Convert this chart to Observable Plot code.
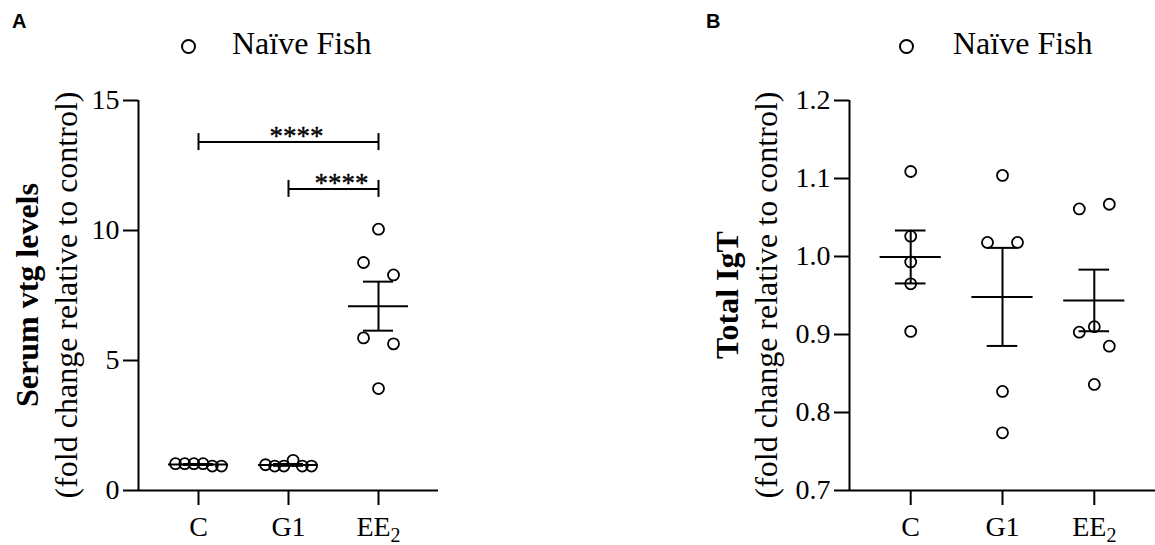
<!DOCTYPE html>
<html><head><meta charset="utf-8">
<script src="https://cdn.jsdelivr.net/npm/d3@7"></script>
<script src="https://cdn.jsdelivr.net/npm/@observablehq/plot@0.6"></script>
<style>
body{margin:0;background:#fff;}
#wrap{position:relative;width:1155px;height:545px;overflow:hidden;font-family:"Liberation Serif","Times New Roman",serif;color:#000;background:#fff;}
.panel{position:absolute;top:0;}
.letter{position:absolute;font-family:"Liberation Sans",Arial,sans-serif;font-weight:bold;font-size:20px;line-height:20px;}
.leg-dot{position:absolute;width:11px;height:11px;border:2px solid #000;border-radius:50%;}
.leg-text{position:absolute;font-family:"Liberation Serif","Times New Roman",serif;font-size:32px;line-height:32px;white-space:pre;}
.ylab{position:absolute;font-family:"Liberation Serif","Times New Roman",serif;font-size:32px;line-height:39px;text-align:center;white-space:nowrap;transform:translate(-50%,-50%) rotate(-90deg);}
.ylab span{display:block;font-family:"Liberation Serif","Times New Roman",serif;}
</style></head><body><div id="wrap"></div>
<script>
// ---- data ----
const groups = ["C", "G1", "EE2"];
// Panel A: serum vtg levels (fold change relative to control)
const vtgC   = [1.03, 1.03, 1.03, 1.03, 0.94, 0.94];
const vtgG1  = [0.99, 0.94, 0.94, 1.16, 0.94, 0.94];
const vtgEE2 = [10.05, 8.77, 8.29, 5.87, 5.64, 3.92];
// Panel B: total IgT (fold change relative to control)
const igtC   = [1.109, 1.026, 0.993, 0.965, 0.904];
const igtG1  = [1.104, 1.018, 1.018, 0.827, 0.774];
const igtEE2 = [1.061, 1.067, 0.903, 0.910, 0.885, 0.836];
const ticksA = [0, 5, 10, 15];
const ticksB = [0.7, 0.8, 0.9, 1.0, 1.1, 1.2];
const sigPairs = [["C", "EE2"], ["G1", "EE2"]];
const sigHeights = [13.4, 11.6];
const sigLabels = ["****", "****"];
const legendLabel = "Naïve Fish";
const titleA = "Serum vtg levels", titleB = "Total IgT", subtitleY = "(fold change relative to control)";

// ---- layout helpers ----
const H = 545, MT = 100, MB = 55;

function spread(values, ypx) {
  const idx = values.map((v, i) => i).sort((a, b) => values[b] - values[a]);
  const rows = [];
  let cur = [idx[0]];
  for (let k = 1; k < idx.length; k++) {
    if (Math.abs(ypx(values[idx[k - 1]]) - ypx(values[idx[k]])) < 16) cur.push(idx[k]);
    else { rows.push(cur); cur = [idx[k]]; }
  }
  rows.push(cur);
  const off = new Array(values.length).fill(0);
  for (const row of rows) {
    row.sort((a, b) => a - b);
    const n = row.length;
    const span = n === 1 ? 0 : n <= 3 ? 30 : 46;
    row.forEach((i, j) => off[i] = n === 1 ? 0 : -span / 2 + j * span / (n - 1));
  }
  return off;
}

function panel({data, yDomain, yTicks, yFormat, width, ml, mr, sig}) {
  const x0 = -2 / 3, x1 = groups.length - 1 + 2 / 3;
  const step = (width - ml - mr) / (x1 - x0);
  const ypx = d3.scaleLinear(yDomain, [H - MB, MT]);
  const unitPx = (H - MB - MT) / (yDomain[1] - yDomain[0]);
  const pts = [], stats = [];
  groups.forEach((g, gi) => {
    const vals = data[gi];
    const off = spread(vals, ypx);
    vals.forEach((v, k) => pts.push({g, gi, v, x: gi + off[k] / step}));
    const m = d3.mean(vals), s = d3.deviation(vals) / Math.sqrt(vals.length);
    stats.push({gi, m, lo: m - s, hi: m + s});
  });
  const marks = [
    Plot.ruleX([x0], {strokeWidth: 2}),
    Plot.ruleY([yDomain[0]], {strokeWidth: 2}),
    Plot.axisY({ticks: yTicks, tickFormat: yFormat, tickSize: 15, tickPadding: 4, fontSize: 28, strokeWidth: 2, label: null}),
    Plot.axisX({ticks: groups.map((_, i) => i), tickFormat: i => groups[i], tickSize: 15, tickPadding: 11, fontSize: 28, strokeWidth: 2, label: null}),
    Plot.ruleY(stats, {y: "m", x1: d => d.gi - 1 / 3, x2: d => d.gi + 1 / 3, strokeWidth: 2}),
    Plot.ruleX(stats, {x: "gi", y1: "lo", y2: "hi", strokeWidth: 2}),
    Plot.ruleY(stats, {y: "hi", x1: d => d.gi - 1 / 6, x2: d => d.gi + 1 / 6, strokeWidth: 2}),
    Plot.ruleY(stats, {y: "lo", x1: d => d.gi - 1 / 6, x2: d => d.gi + 1 / 6, strokeWidth: 2}),
    Plot.dot(pts, {x: "x", y: "v", r: 5.5, stroke: "black", fill: "none", strokeWidth: 1.8})
  ];
  if (sig) {
    const cap = 8.5 / unitPx;
    const sd = sig.pairs.map(([a, b], k) => ({a: groups.indexOf(a), b: groups.indexOf(b), h: sig.heights[k], t: sig.labels[k]}));
    const ends = sd.flatMap(d => [{x: d.a, h: d.h}, {x: d.b, h: d.h}]);
    marks.push(
      Plot.ruleY(sd, {y: "h", x1: "a", x2: "b", strokeWidth: 2}),
      Plot.ruleX(ends, {x: "x", y1: d => d.h - cap, y2: d => d.h + cap, strokeWidth: 2}),
      Plot.text(sd, {x: d => (d.a + d.b) / 2, y: "h", text: "t", dx: 8, dy: 3, lineAnchor: "bottom", fontSize: 27, fill: "black", stroke: "black", strokeWidth: 0.4})
    );
  }
  const svg = Plot.plot({
    width, height: H,
    marginLeft: ml, marginRight: mr, marginTop: MT, marginBottom: MB,
    x: {type: "linear", domain: [x0, x1], axis: null},
    y: {type: "linear", domain: yDomain, axis: null},
    style: {fontFamily: "'Liberation Serif','Times New Roman',serif", fontSize: "28px", color: "black", background: "none", overflow: "visible"},
    marks
  });
  svg.querySelectorAll('g[aria-label="x-axis tick label"] text').forEach(t => {
    if (t.textContent === "EE2") t.innerHTML = 'EE<tspan dy="6" font-size="20">2</tspan>';
  });
  return svg;
}

const wrap = document.getElementById("wrap");

const svgA = panel({data: [vtgC, vtgG1, vtgEE2], yDomain: [0, 15], yTicks: ticksA, yFormat: d3.format("d"), width: 577, ml: 138, mr: 139,
  sig: {pairs: sigPairs, heights: sigHeights, labels: sigLabels}});
svgA.classList.add("panel"); svgA.style.left = "0px";
wrap.appendChild(svgA);

const svgB = panel({data: [igtC, igtG1, igtEE2], yDomain: [0.7, 1.2], yTicks: ticksB, yFormat: d3.format(".1f"), width: 578, ml: 272, mr: 0});
svgB.classList.add("panel"); svgB.style.left = "577px";
wrap.appendChild(svgB);

function addHTML(cls, html, left, top) {
  const d = document.createElement("div");
  d.className = cls; d.innerHTML = html;
  d.style.left = left + "px"; d.style.top = top + "px";
  wrap.appendChild(d);
  return d;
}
// panel letters
addHTML("letter", "A", 12, 11);
addHTML("letter", "B", 706, 11);
// legends
addHTML("leg-dot", "", 180.5, 38.5);
addHTML("leg-text", legendLabel, 232, 27);
addHTML("leg-dot", "", 898.5, 38.5);
addHTML("leg-text", legendLabel, 953, 27);
// y-axis titles
addHTML("ylab", `<span style="font-weight:bold">${titleA}</span><span>${subtitleY}</span>`, 46.5, 295);
addHTML("ylab", `<span style="font-weight:bold">${titleB}</span><span>${subtitleY}</span>`, 747, 295);
</script></body></html>
